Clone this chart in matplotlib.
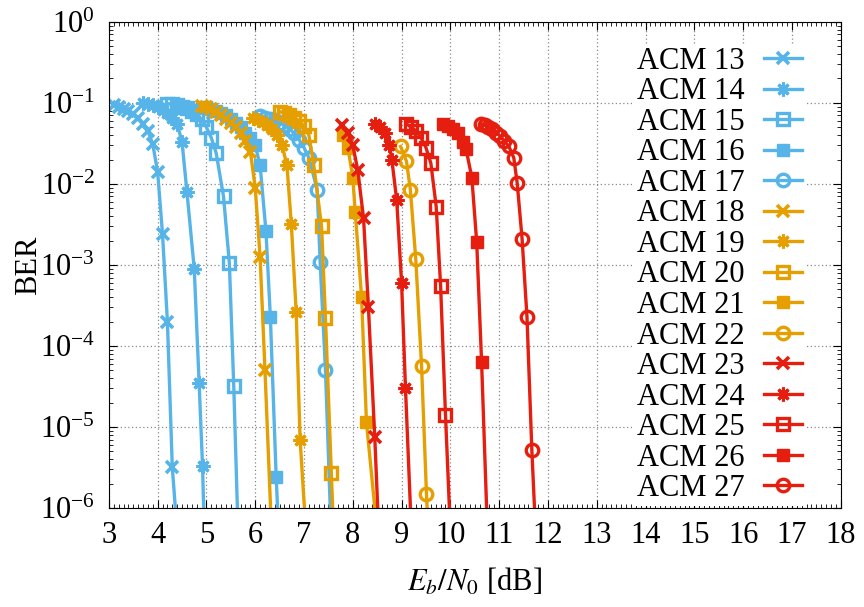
import matplotlib
matplotlib.use("Agg")
import matplotlib.pyplot as plt
from matplotlib.ticker import MultipleLocator, LogLocator, NullFormatter

plt.rcParams['font.family'] = 'serif'
plt.rcParams['font.serif'] = ['Liberation Serif', 'DejaVu Serif']
plt.rcParams['mathtext.fontset'] = 'stix'
plt.rcParams['font.size'] = 22

# Eb/N0 [dB] and BER for each ACM mode
ebn0_13 = [3.1, 3.2, 3.3, 3.4, 3.5, 3.6, 3.7, 3.8, 3.9, 4.0, 4.1, 4.2, 4.3, 4.4]
ber_13 = [0.095, 0.09, 0.085, 0.08, 0.072, 0.065, 0.055, 0.045, 0.031, 0.014, 2.4e-3, 2.0e-4, 3.2e-6, 5e-7]

ebn0_14 = [3.7, 3.8, 3.9, 4.0, 4.1, 4.2, 4.3, 4.4, 4.5, 4.6, 4.75, 4.85, 4.92, 5.0]
ber_14 = [0.10, 0.097, 0.093, 0.088, 0.082, 0.075, 0.066, 0.055, 0.033, 0.008, 9e-4, 3.5e-5, 3.3e-6, 5e-8]

ebn0_15 = [4.2, 4.3, 4.4, 4.5, 4.6, 4.7, 4.8, 4.9, 5.0, 5.1, 5.2, 5.35, 5.47, 5.56, 5.66]
ber_15 = [0.098, 0.096, 0.094, 0.09, 0.086, 0.08, 0.073, 0.063, 0.05, 0.037, 0.024, 7e-3, 1.05e-3, 3.2e-5, 3e-7]

ebn0_16 = [5.0, 5.1, 5.2, 5.3, 5.4, 5.5, 5.6, 5.7, 5.8, 5.9, 6.0, 6.1, 6.22, 6.31, 6.43, 6.53]
ber_16 = [0.088, 0.085, 0.08, 0.075, 0.07, 0.063, 0.057, 0.05, 0.043, 0.037, 0.03, 0.017, 2.6e-3, 2.3e-4, 2.4e-6, 1e-7]

ebn0_17 = [6.1, 6.2, 6.3, 6.4, 6.5, 6.6, 6.7, 6.8, 6.9, 7.0, 7.1, 7.27, 7.33, 7.44, 7.55]
ber_17 = [0.068, 0.066, 0.064, 0.061, 0.057, 0.053, 0.048, 0.042, 0.035, 0.028, 0.021, 8.5e-3, 1.1e-3, 5e-5, 6e-7]

ebn0_18 = [4.9, 5.0, 5.1, 5.2, 5.3, 5.4, 5.5, 5.6, 5.7, 5.8, 5.9, 6.0, 6.1, 6.2, 6.35]
ber_18 = [0.092, 0.088, 0.083, 0.077, 0.071, 0.064, 0.057, 0.05, 0.042, 0.034, 0.025, 9e-3, 1.25e-3, 5e-5, 3e-7]

ebn0_19 = [5.95, 6.05, 6.15, 6.25, 6.35, 6.45, 6.55, 6.65, 6.74, 6.84, 6.92, 7.05]
ber_19 = [0.066, 0.062, 0.058, 0.053, 0.047, 0.04, 0.03, 0.017, 3.2e-3, 2.6e-4, 7e-6, 4e-7]

ebn0_20 = [6.5, 6.6, 6.7, 6.8, 6.9, 7.0, 7.1, 7.2, 7.36, 7.44, 7.56, 7.62]
ber_20 = [0.078, 0.075, 0.071, 0.066, 0.06, 0.052, 0.04, 0.017, 3e-3, 2.2e-4, 2.7e-6, 3e-7]

ebn0_21 = [7.8, 7.9, 8.0, 8.05, 8.18, 8.28, 8.5]
ber_21 = [0.04, 0.028, 0.012, 4.5e-3, 4e-4, 1.15e-5, 5e-7]

ebn0_22 = [8.98, 9.1, 9.18, 9.29, 9.41, 9.51, 9.6]
ber_22 = [0.029, 0.019, 8.5e-3, 1.2e-3, 5.6e-5, 1.5e-6, 1e-7]

ebn0_23 = [7.77, 7.9, 8.0, 8.1, 8.22, 8.32, 8.45, 8.58]
ber_23 = [0.053, 0.043, 0.03, 0.015, 3.8e-3, 3e-4, 7.6e-6, 1e-7]

ebn0_24 = [8.45, 8.55, 8.65, 8.75, 8.8, 8.9, 9.0, 9.08, 9.25]
ber_24 = [0.055, 0.05, 0.043, 0.03, 0.02, 6.3e-3, 6e-4, 3e-5, 1e-7]

ebn0_25 = [9.1, 9.2, 9.3, 9.4, 9.5, 9.6, 9.71, 9.8, 9.9, 10.05]
ber_25 = [0.055, 0.05, 0.045, 0.037, 0.028, 0.018, 5.2e-3, 5.5e-4, 1.4e-5, 1e-7]

ebn0_26 = [9.85, 9.95, 10.05, 10.15, 10.25, 10.32, 10.44, 10.54, 10.64, 10.8]
ber_26 = [0.055, 0.052, 0.048, 0.042, 0.033, 0.027, 0.012, 1.9e-3, 6.3e-5, 1e-7]

ebn0_27 = [10.62, 10.7, 10.78, 10.86, 10.94, 11.02, 11.1, 11.2, 11.3, 11.37, 11.47, 11.57, 11.67, 11.8]
ber_27 = [0.055, 0.053, 0.05, 0.047, 0.043, 0.039, 0.034, 0.029, 0.021, 0.0102, 2.1e-3, 2.3e-4, 5.2e-6, 1e-7]

blue = '#56B4E9'
orange = '#E69F00'
red = '#E51E10'

# (label, x, y, colour, marker, filled)
series = [
    ("ACM 13", ebn0_13, ber_13, blue, 'x', True),
    ("ACM 14", ebn0_14, ber_14, blue, (8, 2, 0), True),
    ("ACM 15", ebn0_15, ber_15, blue, 's', False),
    ("ACM 16", ebn0_16, ber_16, blue, 's', True),
    ("ACM 17", ebn0_17, ber_17, blue, 'o', False),
    ("ACM 18", ebn0_18, ber_18, orange, 'x', True),
    ("ACM 19", ebn0_19, ber_19, orange, (8, 2, 0), True),
    ("ACM 20", ebn0_20, ber_20, orange, 's', False),
    ("ACM 21", ebn0_21, ber_21, orange, 's', True),
    ("ACM 22", ebn0_22, ber_22, orange, 'o', False),
    ("ACM 23", ebn0_23, ber_23, red, 'x', True),
    ("ACM 24", ebn0_24, ber_24, red, (8, 2, 0), True),
    ("ACM 25", ebn0_25, ber_25, red, 's', False),
    ("ACM 26", ebn0_26, ber_26, red, 's', True),
    ("ACM 27", ebn0_27, ber_27, red, 'o', False),
]

fig = plt.figure(figsize=(8.64, 6.07), dpi=100)
ax = fig.add_axes([0.126, 0.163, 0.847, 0.801])

for label, x, y, c, m, filled in series:
    if m == 'x':
        ax.plot(x, y, color=c, lw=2.4, marker=m, ms=9, mew=2.6, label=label)
    elif isinstance(m, tuple):
        ax.plot(x, y, color=c, lw=2.4, marker=m, ms=10, mew=2.2, label=label)
    elif filled:
        ax.plot(x, y, color=c, lw=2.4, marker=m, ms=8, mfc=c, mec=c, label=label)
    else:
        ax.plot(x, y, color=c, lw=2.4, marker=m, ms=9, mfc='none', mec=c, mew=2.4, label=label)

ax.set_yscale('log')
ax.set_xlim(3, 18)
ax.set_ylim(1e-6, 1)
ax.xaxis.set_major_locator(MultipleLocator(1))
ax.xaxis.set_minor_locator(MultipleLocator(0.1))
ax.yaxis.set_major_locator(LogLocator(base=10, numticks=10))
ax.yaxis.set_minor_locator(LogLocator(base=10, subs=range(2, 10), numticks=20))
ax.yaxis.set_minor_formatter(NullFormatter())
ax.tick_params(which='both', direction='in', top=True, right=True, labelsize=22)
ax.tick_params(axis='y', which='major', pad=10)
ax.tick_params(axis='x', which='major', pad=9)
ax.tick_params(which='major', length=6, width=0.8)
ax.tick_params(which='minor', length=3, width=0.6)
ax.grid(True, which='major', color='#888888', linestyle=(0, (1, 2)), linewidth=0.9)
for s in ax.spines.values():
    s.set_linewidth(0.8)

ax.set_xlabel(r'$E_b/N_0$ [dB]', fontsize=22, labelpad=12)
ax.set_ylabel('BER', fontsize=22, labelpad=-2)

leg = ax.legend(loc='upper right', bbox_to_anchor=(0.952, 0.955), markerfirst=False,
                handlelength=1.25, handletextpad=0.65, labelspacing=0.05,
                borderpad=0.1, borderaxespad=0, frameon=True, fancybox=False,
                framealpha=1, edgecolor='none', facecolor='white', fontsize=22)

fig.savefig('out.png', dpi=100)
